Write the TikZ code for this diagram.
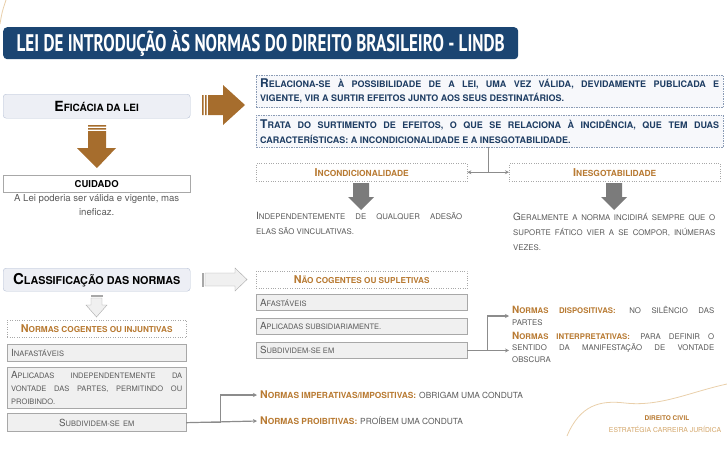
\documentclass[tikz,border=0pt]{standalone}
\usepackage{fontspec}
\usepackage{graphicx}
\setmainfont{TeX Gyre Heros}
\newfontfamily\titlefont{PT Sans}
\usetikzlibrary{positioning,calc,arrows.meta}

\definecolor{titleblue}{HTML}{1B4572}
\definecolor{brownarr}{HTML}{A66D2D}
\definecolor{orangetxt}{HTML}{B87A32}
\definecolor{darkblue}{HTML}{1E3D63}
\definecolor{greytxt}{HTML}{5A5A5A}
\definecolor{dashblue}{HTML}{8A9BB5}
\definecolor{dashfill}{HTML}{F7F8FB}
\definecolor{headfill}{HTML}{EDEFF5}
\definecolor{headline}{HTML}{B8C2D6}
\definecolor{greyfill}{HTML}{F0F0F0}
\definecolor{greyline}{HTML}{A8A8A8}
\definecolor{connline}{HTML}{8C8C8C}
\definecolor{greyarr}{HTML}{7B7B7B}
\definecolor{curveline}{HTML}{E9CFAA}
\definecolor{lightorange}{HTML}{D3A66A}

% fake small caps
\newcommand{\scsize}{8}
\newcommand{\fsc}[1]{{\fontsize{\scsize}{\scsize}\selectfont\MakeUppercase{#1}}}
\newcommand{\scset}[3]{\fontsize{#1}{#2}\selectfont\renewcommand{\scsize}{#3}}

\begin{document}
\begin{tikzpicture}[x=1pt,y=-1pt,
  titlebar/.style={fill=titleblue,rounded corners=4pt,text=white,inner sep=0pt,
    minimum width=515,minimum height=32,anchor=north west},
  headbox/.style={draw=headline,fill=headfill,rounded corners=3pt,minimum width=187,
    minimum height=24,anchor=north west,inner sep=0pt,font=\bfseries\scset{14}{14}{10}},
  dashbox/.style={draw=dashblue,dash pattern=on 1.5pt off 1pt,fill=dashfill,anchor=north west,
    text width=459,inner sep=4pt,align=justify,text=darkblue,minimum height=30,
    font=\bfseries\scset{12}{14}{9}},
  labelbox/.style={draw=greyline,dotted,fill=white,minimum width=211,minimum height=18,
    anchor=north west,inner sep=0pt,text=orangetxt,font=\bfseries\scset{10.8}{10.8}{8.4}},
  greybox/.style={draw=greyline,fill=greyfill,text width=171,inner sep=4pt,align=justify,
    minimum height=17,text=greytxt,font=\scset{9.8}{13}{7.5}},
  greytext/.style={text=greytxt,inner sep=0pt,align=justify,font=\scset{10}{15}{7.8}},
  plaintext/.style={text=greytxt,inner sep=3pt,align=justify,font=\scset{10}{11.5}{7.8}},
  conn/.style={draw=connline,line width=1.2pt},
  tip/.style={-{Stealth[length=4pt,width=4pt]}},
  curve/.style={draw=curveline,line width=0.8pt}
]
  \useasboundingbox (0,0) rectangle (727,450);
  \draw[curve] (0,24) .. controls (2,12) .. (6,0);

  % title
  \node[titlebar] (title) at (3,27)
    {\resizebox{488pt}{\height}{\titlefont\bfseries\fontsize{24}{24}\selectfont LEI DE INTRODUÇÃO ÀS NORMAS DO DIREITO BRASILEIRO - LINDB}};

  % eficacia
  \node[headbox] (efic) at (3,94) {E\fsc{ficácia da lei}};
  \fill[brownarr] (208,95) -- (223,95) -- (223,85) -- (245,105) -- (223,125) -- (223,115) -- (208,115) -- cycle;
  \fill[brownarr] (202,95) rectangle (203.5,115) (205,95) rectangle (206.5,115);
  \fill[brownarr] (88,131) -- (106,131) -- (106,148) -- (116,148) -- (97,168) -- (77,148) -- (88,148) -- cycle;
  \fill[brownarr] (88,125) rectangle (106,126.5) (88,128) rectangle (106,129.5);

  \node[draw=greyline,fill=white,minimum width=187,minimum height=17,anchor=north west,inner sep=0pt,
    font=\bfseries\fontsize{9.5}{9.5}\selectfont] (cuid) at (3,175) {CUIDADO};
  \node[below=1pt of cuid,text=greytxt,align=center,inner sep=1pt,font=\fontsize{9.6}{14}\selectfont] (cuidtxt)
    {A Lei poderia ser válida e vigente, mas\\ineficaz.};

  \node[dashbox] (relac) at (256,75)
    {R\fsc{elaciona-se à possibilidade de a lei, uma vez válida, devidamente publicada e}\linebreak
     \fsc{vigente, vir a surtir efeitos junto aos seus destinatários.}};
  \node[dashbox,minimum height=32,font=\bfseries\scset{12}{15}{9}] (trata) at (256,115)
    {T\fsc{rata do surtimento de efeitos, o que se relaciona à incidência, que tem duas}\linebreak
     \fsc{características: a incondicionalidade e a inesgotabilidade.}};

  \node[labelbox] (incond) at (256,163) {I\fsc{ncondicionalidade}};
  \node[labelbox] (inesg) at (509,163) {I\fsc{nesgotabilidade}};
  \coordinate (midIn) at ($(incond.east)!0.5!(inesg.west)$);
  \draw[conn,{Stealth[length=4pt,width=4pt]}-{Stealth[length=4pt,width=4pt]}] (incond.east) -- (inesg.west);
  \draw[conn] (midIn) -- (midIn |- trata.south);

  \foreach \cx in {361,614}
    \fill[greyarr] (\cx-8,183) -- (\cx+8,183) -- (\cx+8,197) -- (\cx+13,197) -- (\cx,210)
      -- (\cx-13,197) -- (\cx-8,197) -- cycle;

  \node[greytext,text width=206,anchor=north west] (indep) at (256,212.5)
    {I\fsc{ndependentemente de qualquer adesão}\linebreak\fsc{elas são vinculativas.}};
  \node[greytext,text width=202,anchor=north west] (geral) at (513,212.5)
    {G\fsc{eralmente a norma incidirá sempre que o}\linebreak
     \fsc{suporte fático vier a se compor, inúmeras}\linebreak\fsc{vezes.}};

  % classificacao
  \node[headbox,minimum height=23,font=\bfseries\scset{15}{15}{10.8}] (classif) at (3,268)
    {C\fsc{lassificação das normas}};
  \filldraw[fill=greyfill,draw=greyline] (205,273) -- (235,273) -- (235,268) -- (247,279.5) -- (235,291)
    -- (235,286) -- (205,286) -- cycle;
  \filldraw[fill=greyfill,draw=greyline] (202,273) rectangle (203.5,286);
  \filldraw[fill=greyfill,draw=greyline] (91,298) -- (102,298) -- (102,305) -- (107,305) -- (96.5,317)
    -- (86,305) -- (91,305) -- cycle;
  \filldraw[fill=greyfill,draw=greyline] (91,295) rectangle (102,296.5);

  % cogentes
  \node[labelbox,minimum width=179,minimum height=17,font=\bfseries\scset{10.8}{10.8}{8.2}] (cogent) at (7,320)
    {N\fsc{ormas cogentes ou injuntivas}};
  \node[greybox,below=7pt of cogent] (inafast) {I\fsc{nafastáveis}};
  \node[greybox,below=5pt of inafast,minimum height=41] (aplic)
    {A\fsc{plicadas independentemente da}\linebreak
     \fsc{vontade das partes, permitindo ou}\linebreak\fsc{proibindo.}};
  \node[greybox,below=5pt of aplic,align=center,minimum height=18] (subL) {S\fsc{ubdividem-se em}};

  \node[plaintext,anchor=west,font=\scset{10.6}{11.5}{8.4}] (imper) at (257,395)
    {\textcolor{orangetxt}{\bfseries N\fsc{ormas imperativas/impositivas:}} \fsc{obrigam uma conduta}};
  \node[plaintext,anchor=west,font=\scset{10.6}{11.5}{8.4}] (proib) at (257,421)
    {\textcolor{orangetxt}{\bfseries N\fsc{ormas proibitivas:}} \fsc{proíbem uma conduta}};
  \draw[conn,tip] (subL.east) -- (proib.west);
  \draw[conn,tip] (subL.east) -- ++(34,0) |- (imper.west);

  % nao cogentes
  \node[labelbox,minimum height=17,font=\bfseries\scset{10.8}{10.8}{8.2}] (naocog) at (256,271)
    {N\fsc{ão cogentes ou supletivas}};
  \node[greybox,text width=203,minimum height=16,below=6pt of naocog] (afast) {A\fsc{fastáveis}};
  \node[greybox,text width=203,minimum height=16,below=7pt of afast] (subsid) {A\fsc{plicadas subsidiariamente.}};
  \node[greybox,text width=203,minimum height=16,below=8pt of subsid] (subR) {S\fsc{ubdividem-se em}};

  \node[plaintext,text width=202,anchor=west] (disp) at (509,316)
    {\textcolor{orangetxt}{\bfseries N\fsc{ormas dispositivas:}} \fsc{no silêncio das}\linebreak\fsc{partes}};
  \node[plaintext,text width=202,anchor=west] (interp) at (509,347)
    {\textcolor{orangetxt}{\bfseries N\fsc{ormas interpretativas:}} \fsc{para definir o}\linebreak
     \fsc{sentido da manifestação de vontade}\linebreak\fsc{obscura}};
  \draw[conn,tip] (subR.east) -- ++(20,0) |- (disp.west);
  \draw[conn,tip] (subR.east) -- (subR.east -| interp.west);

  % footer
  \draw[curve] (567,436) .. controls (580,405) and (600,400) .. (625,403)
    .. controls (660,407) and (690,392) .. (727,384);
  \node[text=orangetxt,inner sep=0pt,font=\bfseries\fontsize{6.5}{6.5}\selectfont] (dircivil) at (667,418) {DIREITO CIVIL};
  \node[text=lightorange,inner sep=0pt,font=\fontsize{6.8}{6.8}\selectfont] (estrat) at (665,429) {ESTRATÉGIA CARREIRA JURÍDICA};
\end{tikzpicture}
\end{document}
